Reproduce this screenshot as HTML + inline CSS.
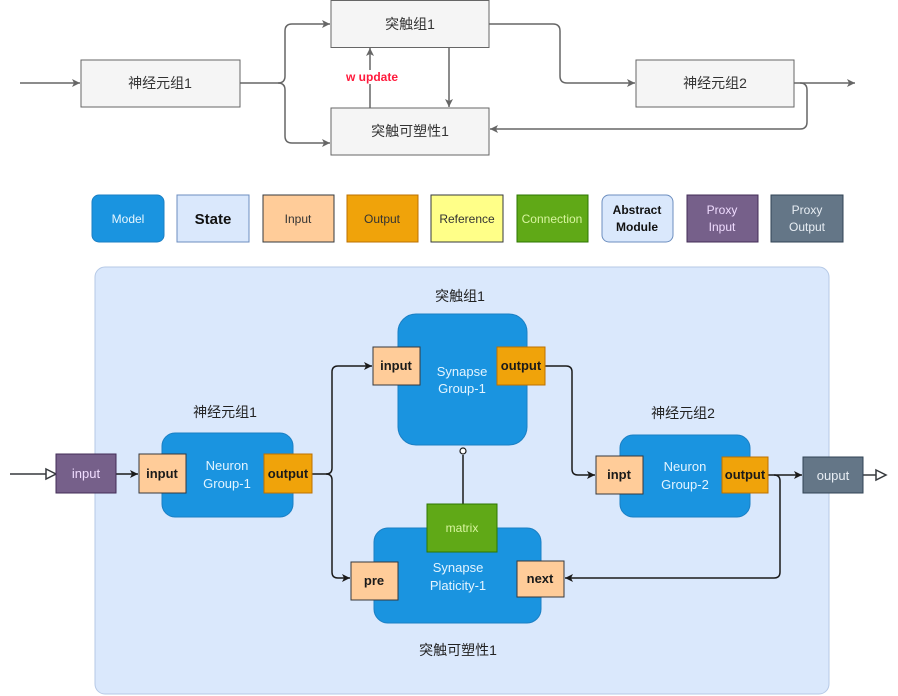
<!DOCTYPE html>
<html><head><meta charset="utf-8"><style>
html,body{margin:0;padding:0;background:#fff;}
svg{display:block;font-family:"Liberation Sans","Noto Sans CJK SC",sans-serif;}
</style></head><body>
<svg width="898" height="696" viewBox="0 0 898 696" xmlns="http://www.w3.org/2000/svg">
<defs>
<marker id="ga" markerWidth="10" markerHeight="10" refX="9" refY="5" orient="auto" markerUnits="userSpaceOnUse"><path d="M1,1 L9,5 L1,9 L3,5 Z" fill="#666"/></marker>
<marker id="da" markerWidth="10" markerHeight="10" refX="9" refY="5" orient="auto" markerUnits="userSpaceOnUse"><path d="M1,1 L9,5 L1,9 L3,5 Z" fill="#1a1a1a"/></marker>
<marker id="ha" markerWidth="14" markerHeight="14" refX="12" refY="7" orient="auto" markerUnits="userSpaceOnUse"><path d="M2,2 L12,7 L2,12 Z" fill="#fff" stroke="#36393d" stroke-width="1.5"/></marker>
</defs>
<!-- top diagram -->
<g stroke="#666" stroke-width="1.5" fill="none">
<path d="M20,83 H80" marker-end="url(#ga)"/>
<path d="M240,83 H278 Q285,83 285,76 V31 Q285,24 292,24 H330" marker-end="url(#ga)"/>
<path d="M278,83 Q285,83 285,90 V136 Q285,143 292,143 H330" marker-end="url(#ga)"/>
<path d="M489,24 H553 Q560,24 560,31 V76 Q560,83 567,83 H635" marker-end="url(#ga)"/>
<path d="M449,48 V107" marker-end="url(#ga)"/>
<path d="M370,108 V48" marker-end="url(#ga)"/>
<path d="M794,83 H855" marker-end="url(#ga)"/>
<path d="M800,83 Q807,83 807,90 V122 Q807,129 800,129 H490" marker-end="url(#ga)"/>
</g>
<g fill="#f5f5f5" stroke="#666" stroke-width="1">
<rect x="81" y="60" width="159" height="47"/>
<rect x="331" y="0.5" width="158" height="47"/>
<rect x="331" y="108" width="158" height="47"/>
<rect x="636" y="60" width="158" height="47"/>
</g>
<g font-size="14" fill="#333" text-anchor="middle">
<text x="160" y="88">神经元组1</text>
<text x="410" y="29">突触组1</text>
<text x="410" y="136">突触可塑性1</text>
<text x="715" y="88">神经元组2</text>
</g>
<rect x="342" y="70" width="60" height="14" fill="#fff"/>
<text x="372" y="81" font-size="12" font-weight="bold" fill="#ff1a3c" text-anchor="middle">w update</text>
<!-- legend -->
<g stroke-width="1">
<rect x="92" y="195" width="72" height="47" rx="7" fill="#1a94e0" stroke="#1a7fc4"/>
<rect x="177" y="195" width="72" height="47" fill="#dae8fc" stroke="#6c8ebf"/>
<rect x="263" y="195" width="71" height="47" fill="#ffcc99" stroke="#36393d"/>
<rect x="347" y="195" width="71" height="47" fill="#f0a30a" stroke="#bd7000"/>
<rect x="431" y="195" width="72" height="47" fill="#ffff88" stroke="#36393d"/>
<rect x="517" y="195" width="71" height="47" fill="#60a917" stroke="#2d7600"/>
<rect x="602" y="195" width="71" height="47" rx="7" fill="#dae8fc" stroke="#6c8ebf"/>
<rect x="687" y="195" width="71" height="47" fill="#76608a" stroke="#432d57"/>
<rect x="771" y="195" width="72" height="47" fill="#647687" stroke="#314354"/>
</g>
<g font-size="12" text-anchor="middle">
<text x="128" y="223" fill="#e6f6ff">Model</text>
<text x="213" y="224" font-size="15" font-weight="bold" fill="#111">State</text>
<text x="298" y="223" fill="#333">Input</text>
<text x="382" y="223" fill="#333">Output</text>
<text x="467" y="223" fill="#333">Reference</text>
<text x="552" y="223" fill="#d8f5a0">Connection</text>
<text x="637" y="214" font-weight="bold" fill="#111">Abstract</text>
<text x="637" y="231" font-weight="bold" fill="#111">Module</text>
<text x="722" y="214" fill="#f0dcff">Proxy</text>
<text x="722" y="231" fill="#f0dcff">Input</text>
<text x="807" y="214" fill="#e8eef4">Proxy</text>
<text x="807" y="231" fill="#e8eef4">Output</text>
</g>
<!-- bottom container -->
<rect x="95" y="267" width="734" height="427" rx="10" fill="#dae8fc" stroke="#b6c9e6" stroke-width="1"/>
<!-- connectors -->
<g stroke="#1a1a1a" stroke-width="1.5" fill="none">
<path d="M116,474 H138" marker-end="url(#da)"/>
<path d="M312,474 H326 Q332,474 332,468 V372 Q332,366 338,366 H372" marker-end="url(#da)"/>
<path d="M326,474 Q332,474 332,480 V572 Q332,578 338,578 H350" marker-end="url(#da)"/>
<path d="M545,366 H566 Q572,366 572,372 V469 Q572,475 578,475 H595" marker-end="url(#da)"/>
<path d="M768,475 H802" marker-end="url(#da)"/>
<path d="M774,475 Q780,475 780,481 V572 Q780,578 774,578 H565" marker-end="url(#da)"/>
<path d="M463,455 V504"/>
</g>
<path d="M10,474 H56" stroke="#36393d" stroke-width="1.5" fill="none" marker-end="url(#ha)"/>
<path d="M863,475 H886" stroke="#36393d" stroke-width="1.5" fill="none" marker-end="url(#ha)"/>
<circle cx="463" cy="451" r="3" fill="#fff" stroke="#1a1a1a" stroke-width="1.2"/>
<!-- models -->
<g fill="#1a94e0" stroke="#1a7fc4" stroke-width="1">
<rect x="398" y="314" width="129" height="131" rx="18"/>
<rect x="162" y="433" width="131" height="84" rx="13"/>
<rect x="620" y="435" width="130" height="82" rx="13"/>
<rect x="374" y="528" width="167" height="95" rx="14"/>
</g>
<g fill="#e3f4ff" font-size="13" text-anchor="middle">
<text x="462" y="376">Synapse</text><text x="462" y="393">Group-1</text>
<text x="227" y="470">Neuron</text><text x="227" y="488">Group-1</text>
<text x="685" y="471">Neuron</text><text x="685" y="489">Group-2</text>
<text x="458" y="572">Synapse</text><text x="458" y="590">Platicity-1</text>
</g>
<!-- ports -->
<g stroke="#36393d" stroke-width="1">
<rect x="56" y="454" width="60" height="39" fill="#76608a" stroke="#432d57"/>
<rect x="139" y="454" width="47" height="39" fill="#ffcc99"/>
<rect x="264" y="454" width="48" height="39" fill="#f0a30a" stroke="#bd7000"/>
<rect x="373" y="347" width="47" height="38" fill="#ffcc99"/>
<rect x="497" y="347" width="48" height="38" fill="#f0a30a" stroke="#bd7000"/>
<rect x="596" y="456" width="47" height="38" fill="#ffcc99"/>
<rect x="722" y="457" width="46" height="36" fill="#f0a30a" stroke="#bd7000"/>
<rect x="803" y="457" width="60" height="36" fill="#647687" stroke="#314354"/>
<rect x="427" y="504" width="70" height="48" fill="#60a917" stroke="#2d7600"/>
<rect x="351" y="562" width="47" height="38" fill="#ffcc99"/>
<rect x="517" y="561" width="47" height="36" fill="#ffcc99"/>
</g>
<g font-size="13" text-anchor="middle" font-weight="bold" fill="#1a1a1a">
<text x="86" y="478" fill="#f0dcff" font-weight="normal">input</text>
<text x="162" y="478">input</text>
<text x="288" y="478">output</text>
<text x="396" y="370">input</text>
<text x="521" y="370">output</text>
<text x="619" y="479">inpt</text>
<text x="745" y="479">output</text>
<text x="833" y="480" fill="#e8eef4" font-weight="normal">ouput</text>
<text x="462" y="532" fill="#d8f5a0" font-weight="normal" font-size="12">matrix</text>
<text x="374" y="585">pre</text>
<text x="540" y="583">next</text>
</g>
<g font-size="14" fill="#222" text-anchor="middle">
<text x="460" y="301">突触组1</text>
<text x="225" y="417">神经元组1</text>
<text x="683" y="418">神经元组2</text>
<text x="458" y="655">突触可塑性1</text>
</g>
</svg>
</body></html>
